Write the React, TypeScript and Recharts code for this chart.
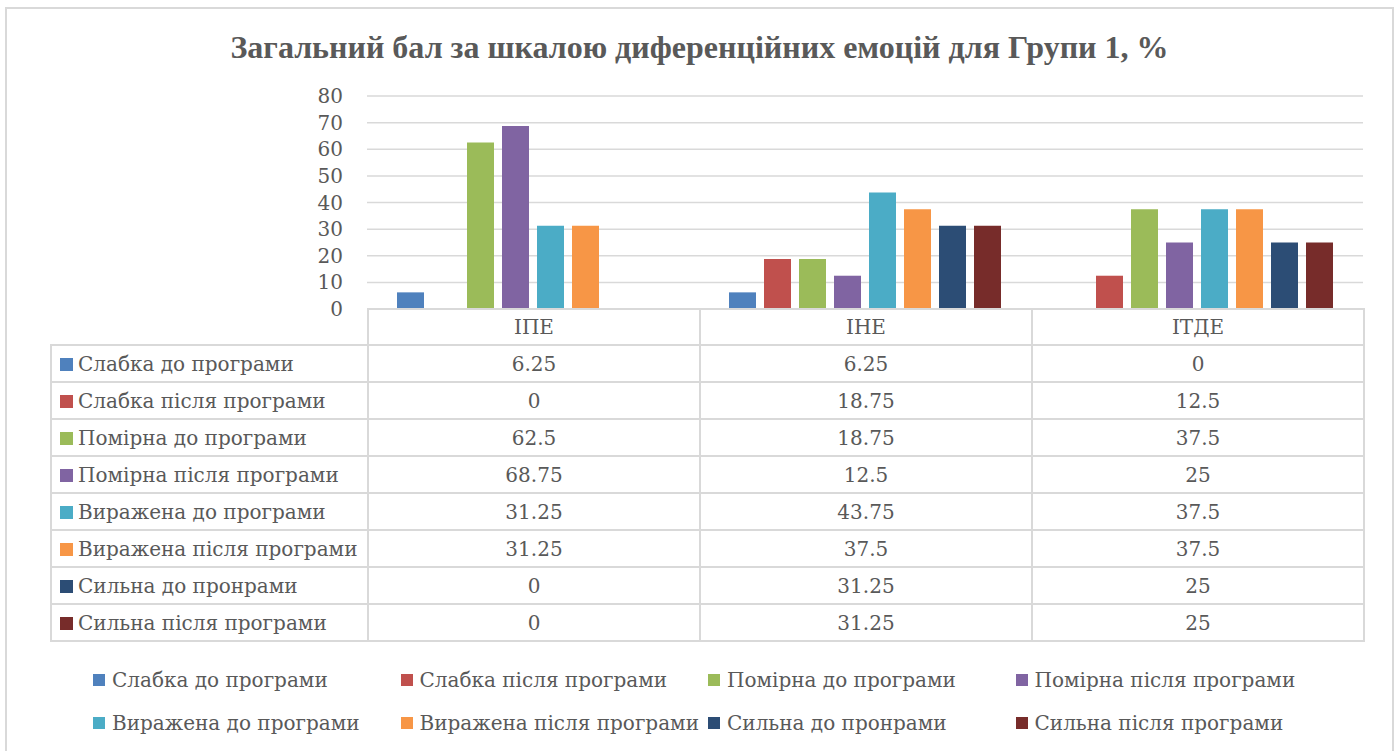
import React from 'react';
import { BarChart, Bar, XAxis, YAxis, CartesianGrid } from 'recharts';

const categories = ['ІПЕ', 'ІНЕ', 'ІТДЕ'];

const seriesNames = [
  'Слабка до програми',
  'Слабка після програми',
  'Помірна до програми',
  'Помірна після програми',
  'Виражена до програми',
  'Виражена після програми',
  'Сильна до пронрами',
  'Сильна після програми',
];

const seriesColors = ['#4F81BD', '#C0504D', '#9BBB59', '#8064A2', '#4BACC6', '#F79646', '#2C4D75', '#772C2A'];

const slabkaDo = [6.25, 6.25, 0];
const slabkaPislya = [0, 18.75, 12.5];
const pomirnaDo = [62.5, 18.75, 37.5];
const pomirnaPislya = [68.75, 12.5, 25];
const vyrazhenaDo = [31.25, 43.75, 37.5];
const vyrazhenaPislya = [31.25, 37.5, 37.5];
const sylnaDo = [0, 31.25, 25];
const sylnaPislya = [0, 31.25, 25];

const seriesValues = [slabkaDo, slabkaPislya, pomirnaDo, pomirnaPislya, vyrazhenaDo, vyrazhenaPislya, sylnaDo, sylnaPislya];

const yTicks = [0, 10, 20, 30, 40, 50, 60, 70, 80];

const data = categories.map((name, i) => {
  const row: Record<string, any> = { name };
  seriesValues.forEach((vals, s) => {
    row['s' + s] = vals[i];
  });
  return row;
});

const textColor = '#595959';
const lineColor = '#d9d9d9';
const serif = '"DejaVu Serif", serif';
const titleFont = '"Liberation Serif", serif';

const cell: React.CSSProperties = {
  border: `2px solid ${lineColor}`,
  padding: 0,
  textAlign: 'center',
  whiteSpace: 'nowrap',
};

export default function App() {
  return (
    <div style={{ position: 'absolute', left: 0, top: 0, width: 1396, height: 751, overflow: 'hidden', background: '#fff', fontFamily: serif, color: textColor }}>
      <div style={{ position: 'absolute', left: 5, top: 7, width: 1385, height: 760, border: `2px solid ${lineColor}` }} />
      <div style={{ position: 'absolute', left: 5, top: 28, width: 1389, textAlign: 'center', fontSize: 32, fontWeight: 'bold', lineHeight: '38px', fontFamily: titleFont }}>
        Загальний бал за шкалою диференційних емоцій для Групи 1, %
      </div>

      <div style={{ position: 'absolute', left: 0, top: 0 }}>
        <BarChart
          width={1396}
          height={320}
          data={data}
          margin={{ top: 96, right: 33, bottom: 11, left: 307 }}
          barCategoryGap={30}
          barGap={8}
        >
          <CartesianGrid vertical={false} stroke={lineColor} strokeWidth={1.5} />
          <XAxis dataKey="name" hide />
          <YAxis
            width={60}
            domain={[0, 80]}
            ticks={yTicks}
            interval={0}
            axisLine={false}
            tickLine={false}
            tickMargin={18}
            tick={{ fill: textColor, fontSize: 20, fontFamily: serif }}
          />
          {seriesNames.map((n, s) => (
            <Bar key={n} dataKey={'s' + s} name={n} fill={seriesColors[s]} isAnimationActive={false} />
          ))}
        </BarChart>
      </div>

      <table style={{ position: 'absolute', left: 50, top: 308, borderCollapse: 'collapse', tableLayout: 'fixed', fontSize: 20 }}>
        <colgroup>
          <col style={{ width: 317 }} />
          <col style={{ width: 332 }} />
          <col style={{ width: 332 }} />
          <col style={{ width: 332 }} />
        </colgroup>
        <tbody>
          <tr style={{ height: 36 }}>
            <td style={{ ...cell, borderTop: 'none', borderLeft: 'none' }} />
            {categories.map((c) => (
              <td key={c} style={cell}>{c}</td>
            ))}
          </tr>
          {seriesNames.map((n, s) => (
            <tr key={n} style={{ height: 37 }}>
              <td style={{ ...cell, textAlign: 'left' }}>
                <span style={{ display: 'inline-block', width: 13, height: 13, background: seriesColors[s], marginLeft: 8, marginRight: 5 }} />
                {n}
              </td>
              {seriesValues[s].map((v, i) => (
                <td key={i} style={cell}>{String(v)}</td>
              ))}
            </tr>
          ))}
        </tbody>
      </table>

      <div style={{ position: 'absolute', left: 93, top: 658, width: 1240, display: 'flex', flexWrap: 'wrap', fontSize: 20 }}>
        {seriesNames.map((n, s) => (
          <div key={n} style={{ width: 307.5, height: 43, display: 'flex', alignItems: 'center', whiteSpace: 'nowrap' }}>
            <span style={{ display: 'inline-block', width: 12, height: 12, background: seriesColors[s], marginRight: 7 }} />
            {n}
          </div>
        ))}
      </div>
    </div>
  );
}
